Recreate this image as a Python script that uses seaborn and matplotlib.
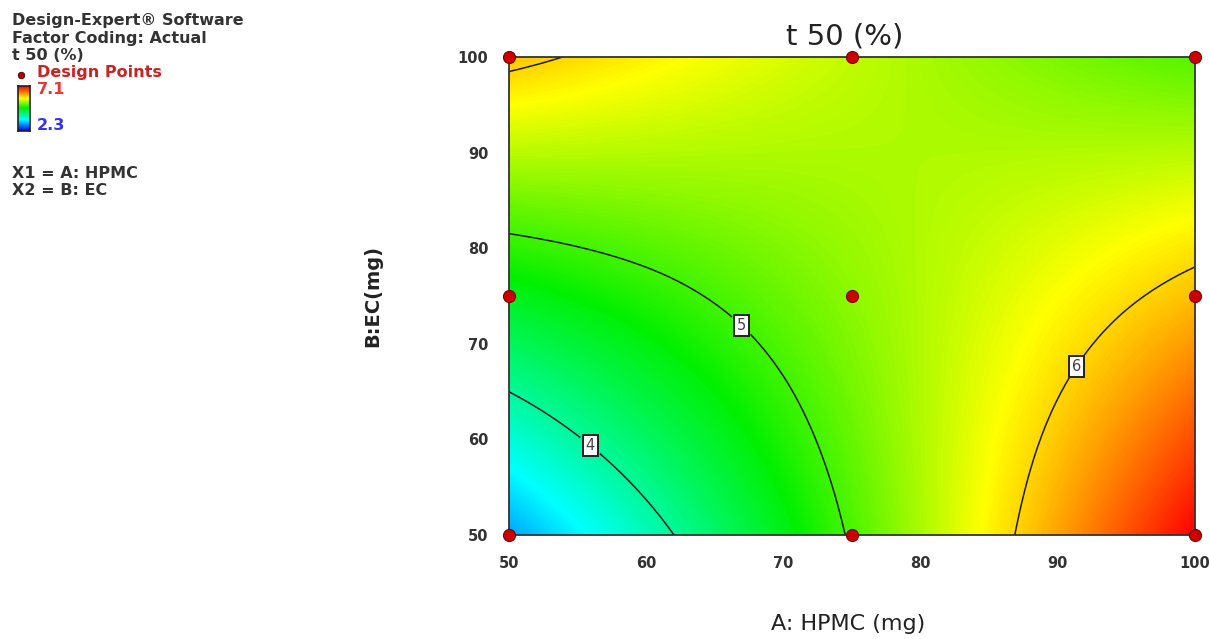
import numpy as np
import pandas as pd
import seaborn as sns
import matplotlib
matplotlib.use("Agg")
import matplotlib.pyplot as plt
import matplotlib.tri as mtri
from matplotlib.colors import LinearSegmentedColormap

# ---------------- data ----------------
hpmc_grid = [50, 60, 70, 80, 90, 100]          # A: HPMC (mg)
ec_grid = [50, 60, 70, 80, 90, 100]            # B: EC (mg)
# t50 response, rows = EC 50..100, cols = HPMC 50..100
t50_grid = [
    [3.07, 3.84, 4.64, 5.44, 6.26, 7.10],
    [3.69, 4.27, 4.86, 5.46, 6.08, 6.71],
    [4.31, 4.68, 5.07, 5.47, 5.89, 6.32],
    [4.91, 5.08, 5.27, 5.47, 5.69, 5.92],
    [5.50, 5.48, 5.46, 5.46, 5.47, 5.50],
    [6.09, 5.86, 5.64, 5.44, 5.25, 5.08],
]
design_hpmc = [50, 75, 100, 50, 75, 100, 50, 75, 100]
design_ec = [50, 50, 50, 75, 75, 75, 100, 100, 100]
contour_levels = [4, 5, 6]
color_min, color_max = 2.3, 7.1
x_ticks = [50, 60, 70, 80, 90, 100]
y_ticks = [50, 60, 70, 80, 90, 100]

# ---------------- style ----------------
sns.set_style("white")
plt.rcParams['font.family'] = ['DejaVu Sans']
txt_col = '#333333'

cmap = LinearSegmentedColormap.from_list(
    "de", [(0.0, "#0000ff"), (0.25, "#00ffff"), (0.51, "#00f000"),
           (0.73, "#ffff00"), (1.0, "#ff0000")])

fig = plt.figure(figsize=(12.10, 6.39), dpi=100)
ax = fig.add_axes([509 / 1210, 1 - 535 / 639, 686 / 1210, 478 / 639])

X, Y = np.meshgrid(hpmc_grid, ec_grid)
Z = np.array(t50_grid)
tri = mtri.Triangulation(X.ravel(), Y.ravel())
refiner = mtri.UniformTriRefiner(tri)
tri_f, z_f = refiner.refine_field(Z.ravel(), subdiv=4)

ax.tricontourf(tri_f, z_f, levels=np.linspace(color_min, color_max, 256),
               cmap=cmap, extend='both', zorder=1)
cs = ax.tricontour(tri_f, z_f, levels=contour_levels, colors='#1a1a1a',
                   linewidths=1.1, zorder=2)
labels = ax.clabel(cs, contour_levels, inline=True, fmt='%d', fontsize=10.5,
                   inline_spacing=8,
                   manual=[(56, 59.5), (67, 72), (91.5, 67.5)])
for t in labels:
    t.set_rotation(0)
    t.set_color('#444444')
    t.set_bbox(dict(facecolor='white', edgecolor='#222222', pad=2.2, lw=1.4))

pts = pd.DataFrame({"A": design_hpmc, "B": design_ec})
sns.scatterplot(data=pts, x="A", y="B", ax=ax, color='#cc0000',
                edgecolor='#7a0000', linewidth=0.8, s=75, clip_on=False,
                zorder=6, legend=False)

ax.set_xlim(50, 100)
ax.set_ylim(50, 100)
ax.set_xticks(x_ticks)
ax.set_yticks(y_ticks)
ax.set_xticklabels([str(v) for v in x_ticks])
ax.set_yticklabels([str(v) for v in y_ticks])
ax.tick_params(axis='both', direction='out', length=9, width=1.3,
               colors='#444444', labelcolor=txt_col, labelsize=10.5, pad=6)
for lab in ax.get_xticklabels() + ax.get_yticklabels():
    lab.set_fontweight('bold')
for sp in ax.spines.values():
    sp.set_color('#333333')
    sp.set_linewidth(1.3)
    sp.set_zorder(5)

ax.set_title("t 50 (%)", fontsize=21, color='#222222', pad=9, x=0.49)
ax.set_xlabel("A: HPMC (mg)", fontsize=16, color='#222222')
ax.xaxis.set_label_coords(0.494, -0.165)
ax.set_ylabel("B:EC(mg)", fontsize=14, color='#222222', fontweight='bold')
ax.yaxis.set_label_coords(-0.185, 0.5)

# ---------------- left info block ----------------
def ftxt(x, y, s, color=txt_col, **kw):
    fig.text(x / 1210, 1 - y / 639, s, color=color, fontsize=11.5,
             fontweight='bold', va='center', ha='left', **kw)

ftxt(12, 21, "Design-Expert\u00ae Software")
ftxt(12, 39, "Factor Coding: Actual")
ftxt(12, 56, "t 50 (%)")
ftxt(37, 73, "Design Points", color='#cc2222')
ftxt(37, 90, "7.1", color='#ee3333')
ftxt(37, 125, "2.3", color='#3333ee')
ftxt(12, 173, "X1 = A: HPMC")
ftxt(12, 190, "X2 = B: EC")

dot_ax = fig.add_axes([15 / 1210, 1 - 80 / 639, 12 / 1210, 10 / 639])
dot_ax.scatter([0], [0], s=22, color='#aa0000', edgecolor='#550000', lw=0.6)
dot_ax.set_xlim(-1, 1)
dot_ax.set_ylim(-1, 1)
dot_ax.axis('off')

cb_ax = fig.add_axes([18 / 1210, 1 - 131 / 639, 12 / 1210, 45 / 639])
cb_ax.imshow(np.linspace(1, 0, 100).reshape(-1, 1), cmap=cmap, aspect='auto')
cb_ax.set_xticks([])
cb_ax.set_yticks([])
for sp in cb_ax.spines.values():
    sp.set_color('#222222')
    sp.set_linewidth(1.2)

fig.savefig("out.png", dpi=100)
